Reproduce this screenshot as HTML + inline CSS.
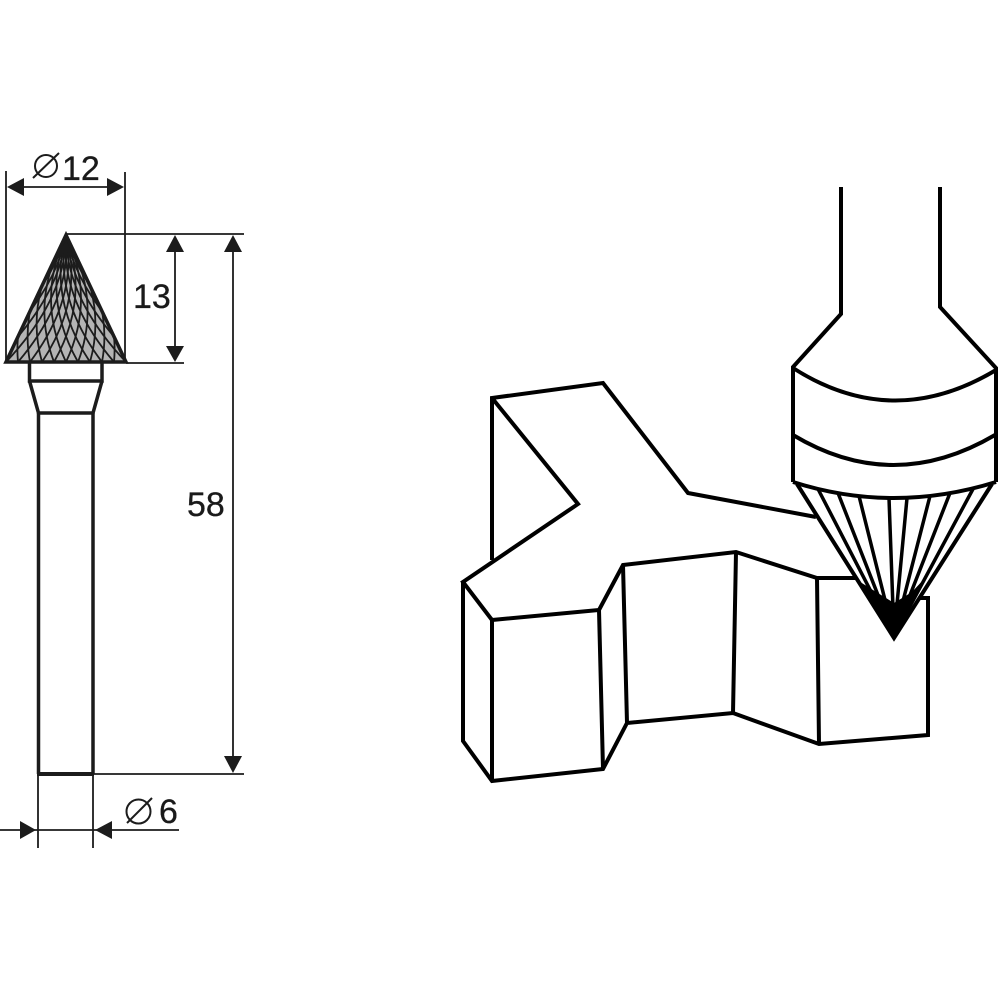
<!DOCTYPE html>
<html>
<head>
<meta charset="utf-8">
<style>
html,body{margin:0;padding:0;background:#fff}
svg{display:block}
text{font-family:"Liberation Sans",sans-serif;font-size:34px;fill:#1a1a1a;stroke:#1a1a1a;stroke-width:.3}
</style>
</head>
<body>
<svg width="1000" height="1000" viewBox="0 0 1000 1000" xmlns="http://www.w3.org/2000/svg">
<defs>
<clipPath id="c"><polygon points="66,235 6,362 126,362"/></clipPath>
<g id="h" fill="none" stroke="#1c1c1c" stroke-width="1.800">
<path d="M66 235Q6 298.500 6 362"/>
<path d="M66 235Q12 298.500 18 362"/>
<path d="M66 235Q18 298.500 30 362"/>
<path d="M66 235Q24 298.500 42 362"/>
<path d="M66 235Q30 298.500 54 362"/>
<path d="M66 235Q36 298.500 66 362"/>
<path d="M66 235Q42 298.500 78 362"/>
<path d="M66 235Q48 298.500 90 362"/>
<path d="M66 235Q54 298.500 102 362"/>
<path d="M66 235Q60 298.500 114 362"/>
<path d="M66 235Q66 298.500 126 362"/>
<path d="M66 235Q72 298.500 138 362"/>
<path d="M66 235Q78 298.500 150 362"/>
<path d="M66 235Q84 298.500 162 362"/>
<path d="M66 235Q90 298.500 174 362"/>
<path d="M66 235Q96 298.500 186 362"/>
</g>
</defs>

<!-- bur -->
<polygon points="66,235 6,362 126,362" fill="#b4b4b4"/>
<g clip-path="url(#c)">
<use href="#h"/>
<use href="#h" transform="translate(132 0) scale(-1 1)"/>
</g>
<path d="M66 235L6 362H126Z" fill="none" stroke="#1c1c1c" stroke-width="3.500" stroke-linejoin="miter"/>
<g fill="none" stroke="#1c1c1c" stroke-width="3.500">
<path d="M29.500 363V381H102V363"/>
<path d="M29.500 381L38.500 413H93L102 381"/>
<path d="M38.500 413V774M93 413V774"/>
<path d="M37 774H94" stroke-width="4"/>
</g>

<!-- dimension lines -->
<g fill="none" stroke="#1c1c1c" stroke-width="1.800">
<path d="M6 171V362M125 172V362"/>
<path d="M20 187H112"/>
<path d="M66 234H244M126 363H184"/>
<path d="M175 245V352"/>
<path d="M233 245V765"/>
<path d="M93 774H244"/>
<path d="M38 774V848M93 774V848"/>
<path d="M0 830H179"/>
</g>
<g fill="#1c1c1c">
<polygon points="7,187 24,178 24,196"/>
<polygon points="124,187 107,178 107,196"/>
<polygon points="175,235 166,252 184,252"/>
<polygon points="175,362 166,346 184,346"/>
<polygon points="233,235 224,252 242,252"/>
<polygon points="233,773 224,756 242,756"/>
<polygon points="36,830 20,821 20,839"/>
<polygon points="95,830 112,821 112,839"/>
</g>
<g fill="none" stroke="#1c1c1c" stroke-width="2">
<circle cx="46" cy="166" r="11"/>
<path d="M33 178L59 153"/>
<circle cx="138.500" cy="811.500" r="12"/>
<path d="M127 823L152 798"/>
</g>
<text x="62" y="180">12</text>
<text x="133" y="308">13</text>
<text x="187" y="516">58</text>
<text x="159" y="823">6</text>

<!-- workpiece -->
<g fill="none" stroke="#000" stroke-width="4" stroke-linejoin="miter">
<path d="M492 560V398L603 383L688 493L816 517"/>
<path d="M492 398L578 504L463 582L492 620L599 610L623 565L736 552L817 578H860"/>
<path d="M463 582V741L492 781L603 769L627 723L733 713L819 744L928 735V598H920"/>
<path d="M492 620V781M599 610L603 769M623 565L627 723M736 552L733 713M817 578L819 744"/>
</g>

<!-- tool -->
<path d="M793 368L841 314V187H940V307L996 368V482L894 638L793 482Z" fill="#fff"/>
<g fill="none" stroke="#000" stroke-width="4">
<path d="M841 187V314L793 367V482M940 187V307L996 368V482"/>
<path d="M793 368Q893 432 996 370"/>
<path d="M793 435Q893 495 995 435"/>
<path d="M793 482Q893 514 996 482"/>
<path d="M797 484L894 638L992 484"/>
</g>
<g fill="none" stroke="#000" stroke-width="3.500">
<path d="M818 489L894 636M838 493L894 636M859 496L894 636M889 498L894 636M907 498L894 636M930 496L894 636M950 493L894 636M973 489L894 636"/>
</g>
<polygon points="894,638 857,580 873,590 894,603 912,592 925,578" fill="#000"/>
</svg>
</body>
</html>
